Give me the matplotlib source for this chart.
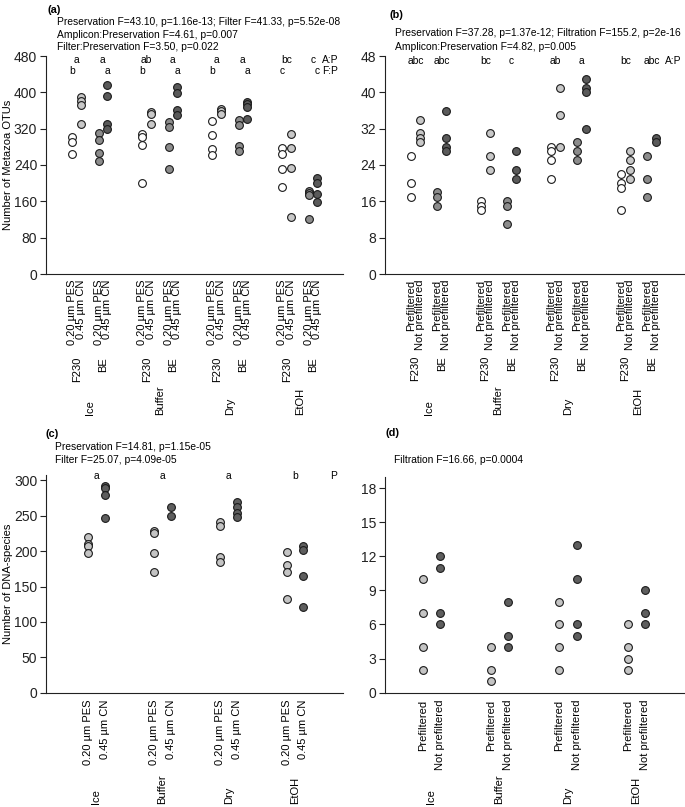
import matplotlib
matplotlib.use("Agg")
import matplotlib.pyplot as plt
from matplotlib.transforms import blended_transform_factory

plt.rcParams['font.family'] = ['Liberation Sans', 'DejaVu Sans']

# ---------------- data ----------------
preservation = ["Ice", "Buffer", "Dry", "EtOH"]
amplicons = ["F230", "BE"]
filters = ["0.20 µm PES", "0.45 µm CN"]
prefilt = ["Prefiltered", "Not prefiltered"]

# panel (a): Metazoa OTUs, per preservation
a_f230_pes = [[301, 290, 264], [309, 301, 284, 200], [336, 307, 275, 261], [277, 264, 231, 191]]
a_f230_cn = [[389, 381, 372, 330], [357, 352, 331], [364, 358, 352], [309, 278, 234, 125]]
a_be_pes = [[311, 295, 266, 249], [335, 323, 280, 232], [338, 328, 281, 271], [183, 178, 173, 122]]
a_be_cn = [[416, 391, 330, 320], [411, 398, 361, 350], [379, 374, 368, 341], [211, 200, 176, 159]]
a_letters_ap = ["a", "a", "ab", "a", "a", "a", "bc", "c"]
a_letters_fp = ["b", "a", "b", "a", "b", "a", "c", "c"]
a_stats = ["Preservation F=43.10, p=1.16e-13; Filter F=41.33, p=5.52e-08",
           "Amplicon:Preservation F=4.61, p=0.007",
           "Filter:Preservation F=3.50, p=0.022"]

# panel (b): Metazoa OTUs, prefiltration
b_f230_pre = [[26, 20, 17], [16, 15, 14], [28, 27, 25, 21], [22, 20, 19, 14]]
b_f230_not = [[34, 31, 30, 29], [31, 26, 23], [41, 35, 28], [27, 25, 23, 21]]
b_be_pre = [[18, 17, 15], [16, 15, 11], [29, 27, 25], [26, 21, 17]]
b_be_not = [[36, 30, 28, 27], [27, 23, 21], [43, 41, 40, 32], [30, 29]]
b_letters_ap = ["abc", "abc", "bc", "c", "ab", "a", "bc", "abc"]
b_stats = ["Preservation F=37.28, p=1.37e-12; Filtration F=155.2, p=2e-16",
           "Amplicon:Preservation F=4.82, p=0.005"]

# panel (c): DNA-species
c_pes = [[220, 210, 207, 197], [229, 226, 197, 170], [241, 236, 192, 184], [199, 180, 170, 133]]
c_cn = [[292, 289, 279, 247], [263, 250], [270, 263, 254, 248], [207, 201, 165, 121]]
c_letters = ["a", "a", "a", "b"]
c_stats = ["Preservation F=14.81, p=1.15e-05", "Filter F=25.07, p=4.09e-05"]

# panel (d)
d_pre = [[10, 7, 4, 2], [4, 2, 1], [8, 6, 4, 2], [6, 4, 3, 2]]
d_not = [[12, 11, 7, 6], [8, 5, 4], [13, 10, 6, 5], [9, 7, 6]]
d_stats = ["Filtration F=16.66, p=0.0004"]

# ---------------- style ----------------
W, H = 685, 807
fig = plt.figure(figsize=(W / 100, H / 100), dpi=100)

C_WHITE, C_LIGHT, C_MID, C_DARK = "#ffffff", "#c8c8c8", "#8c8c8c", "#5a5a5a"
EDGE = "#1a1a1a"
MS, MEW = 5.6, 0.8
FS_TICK, FS_XL, FS_TXT = 10, 8, 7.4


def fy(ypx):
    return 1 - ypx / H


def fx(xpx):
    return xpx / W


def make_ax(x0, x1, ytop, ybot):
    ax = fig.add_axes([fx(x0), fy(ybot), (x1 - x0) / W, (ybot - ytop) / H])
    for s in ("top", "right"):
        ax.spines[s].set_visible(False)
    for s in ("left", "bottom"):
        ax.spines[s].set_linewidth(0.8)
        ax.spines[s].set_color("#222222")
    ax.tick_params(axis="y", length=4.3, width=0.8, pad=2, labelsize=FS_TICK, colors="#222222")
    ax.tick_params(axis="x", length=0, pad=4.3, labelsize=FS_XL)
    return ax


def dots(ax, x, vals, color):
    ax.plot([x] * len(vals), vals, "o", ms=MS, mfc=color, mec=EDGE, mew=MEW,
            clip_on=False, zorder=3)


def header(label, lx, ly, stats, sx, sys_):
    fig.text(fx(lx), fy(ly), label, fontsize=7.8, fontweight="bold", ha="left", va="center")
    for s, yy in zip(stats, sys_):
        fig.text(fx(sx), fy(yy), s, fontsize=FS_TXT, ha="left", va="center")


def rot(ax, tr, x, ypx, s, va):
    ax.text(x, fy(ypx), s, transform=tr, rotation=90, ha="center", va=va, fontsize=FS_XL)


def let(ax, tr, x, ypx, s):
    ax.text(x, fy(ypx), s, transform=tr, ha="center", va="center", fontsize=FS_TXT)


# ---------------- panel (a) ----------------
ax_a = make_ax(46, 343, 56, 274)
ax = ax_a
ax.set_ylim(0, 480)
ax.set_yticks(range(0, 481, 80))
ax.set_xlim(-3.0, 30.94)
tr = blended_transform_factory(ax.transData, fig.transFigure)
xt, xl = [], []
for g in range(4):
    b = 8 * g
    dots(ax, b + 0, a_f230_pes[g], C_WHITE)
    dots(ax, b + 1, a_f230_cn[g], C_LIGHT)
    dots(ax, b + 3, a_be_pes[g], C_MID)
    dots(ax, b + 4, a_be_cn[g], C_DARK)
    xt += [b + 0, b + 1, b + 3, b + 4]
    xl += filters + filters
    rot(ax, tr, b + 0.5, 357, amplicons[0], "top")
    rot(ax, tr, b + 3.5, 357, amplicons[1], "top")
    rot(ax, tr, b + 2, 415, preservation[g], "bottom")
    let(ax, tr, b + 0.5, 60, a_letters_ap[2 * g])
    let(ax, tr, b + 3.5, 60, a_letters_ap[2 * g + 1])
    let(ax, tr, b + 0, 71, a_letters_fp[2 * g])
    let(ax, tr, b + 4, 71, a_letters_fp[2 * g + 1])
let(ax, tr, 29.5, 60, "A:P")
let(ax, tr, 29.5, 71, "F:P")
ax.set_xticks(xt)
ax.set_xticklabels(xl, rotation=90)
ax.set_ylabel("Number of Metazoa OTUs", fontsize=8)
header("(a)", 47, 10, a_stats, 57, [22, 34.5, 47])

# ---------------- panel (b) ----------------
ax = make_ax(385, 685, 56, 274)
ax.set_ylim(0, 48)
ax.set_yticks(range(0, 49, 8))
ax.set_xlim(-2.97, 31.3)
tr = blended_transform_factory(ax.transData, fig.transFigure)
xt, xl = [], []
for g in range(4):
    b = 8 * g
    dots(ax, b + 0, b_f230_pre[g], C_WHITE)
    dots(ax, b + 1, b_f230_not[g], C_LIGHT)
    dots(ax, b + 3, b_be_pre[g], C_MID)
    dots(ax, b + 4, b_be_not[g], C_DARK)
    xt += [b + 0, b + 1, b + 3, b + 4]
    xl += prefilt + prefilt
    rot(ax, tr, b + 0.5, 356, amplicons[0], "top")
    rot(ax, tr, b + 3.5, 356, amplicons[1], "top")
    rot(ax, tr, b + 2, 415, preservation[g], "bottom")
    let(ax, tr, b + 0.5, 61, b_letters_ap[2 * g])
    let(ax, tr, b + 3.5, 61, b_letters_ap[2 * g + 1])
let(ax, tr, 30.0, 61, "A:P")
ax.set_xticks(xt)
ax.set_xticklabels(xl, rotation=90)
header("(b)", 390, 15, b_stats, 395, [33.5, 46.5])

# ---------------- panel (c) ----------------
ax_c = make_ax(46, 343, 475.4, 692.7)
ax = ax_c
ax.set_ylim(0, 307)
ax.set_yticks(range(0, 301, 50))
ax.set_xlim(-2.54, 15.4)
tr = blended_transform_factory(ax.transData, fig.transFigure)
xt, xl = [], []
for g in range(4):
    b = 4 * g
    dots(ax, b + 0, c_pes[g], "#c4c4c4")
    dots(ax, b + 1, c_cn[g], "#5e5e5e")
    xt += [b + 0, b + 1]
    xl += filters
    rot(ax, tr, b + 0.5, 804, preservation[g], "bottom")
    let(ax, tr, b + 0.5, 476, c_letters[g])
let(ax, tr, 14.8, 476, "P")
ax.set_xticks(xt)
ax.set_xticklabels(xl, rotation=90)
ax.tick_params(axis="x", pad=5)
ax.set_ylabel("Number of DNA-species", fontsize=8)
header("(c)", 45, 434.3, c_stats, 55, [447.3, 460])

# ---------------- panel (d) ----------------
ax = make_ax(385, 685, 476.7, 692.7)
ax.set_ylim(0, 19)
ax.set_yticks(range(0, 19, 3))
ax.set_xlim(-2.2, 15.34)
tr = blended_transform_factory(ax.transData, fig.transFigure)
xt, xl = [], []
for g in range(4):
    b = 4 * g
    dots(ax, b + 0, d_pre[g], "#c4c4c4")
    dots(ax, b + 1, d_not[g], "#5e5e5e")
    xt += [b + 0, b + 1]
    xl += prefilt
    rot(ax, tr, b + 0.5, 804, preservation[g], "bottom")
ax.set_xticks(xt)
ax.set_xticklabels(xl, rotation=90)
ax.tick_params(axis="x", pad=5)
header("(d)", 385, 433.3, d_stats, 394.3, [460])

# y-labels: anchor (right edge of rotated text) in figure pixels
for a_, yc in ((ax_a, 165), (ax_c, 584)):
    a_.yaxis.set_label_coords(fx(13), fy(yc), transform=fig.transFigure)

fig.savefig("out.png", dpi=100)
